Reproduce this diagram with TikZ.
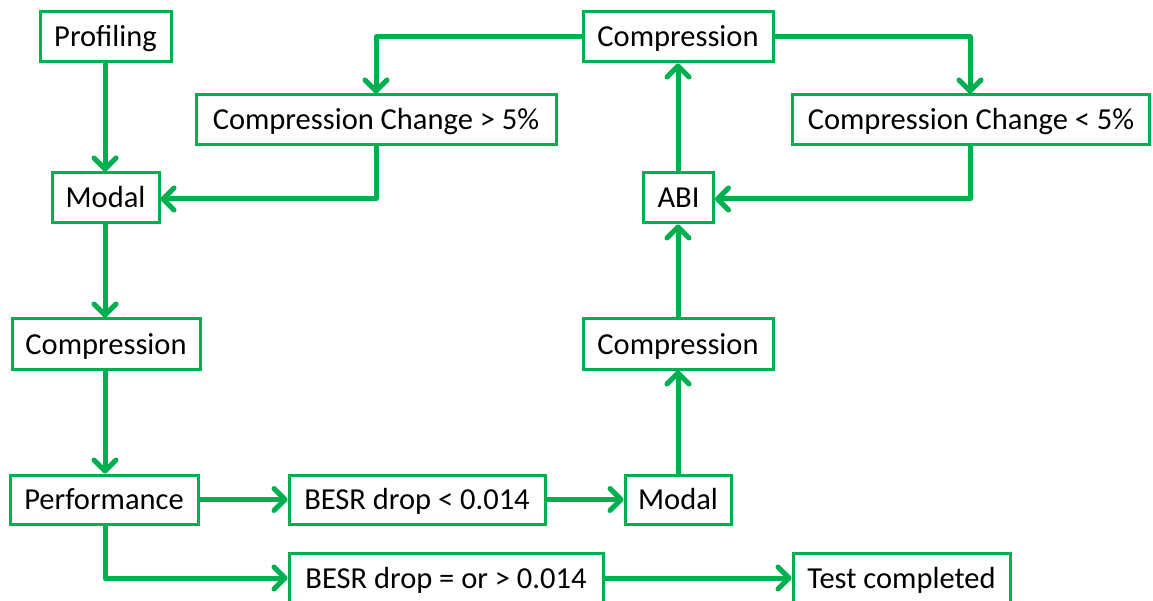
\documentclass[tikz,border=0pt]{standalone}
\usepackage{fontspec}
\setmainfont{Carlito}
\usetikzlibrary{arrows.meta}
\definecolor{fgreen}{HTML}{00B050}
\begin{document}
\begin{tikzpicture}[x=1pt,y=-1pt,
  box/.style={draw=fgreen,line width=3pt,fill=white,inner sep=0pt,minimum height=50pt,font=\fontsize{30.5}{36}\selectfont,text=black,text height=23pt,text depth=3pt},
  conn/.style={draw=fgreen,line width=5pt,line join=round,-{Straight Barb[length=11pt,width=22pt,line cap=round,line join=round]}}]
\useasboundingbox (0,0) rectangle (1153,601);
\node[box,minimum width=131pt] (prof) at (105.5,37) {Profiling};
\node[box,minimum width=107pt] (modal1) at (105.5,198) {Modal};
\node[box,minimum width=188pt] (comp1) at (106,344) {Compression};
\node[box,minimum width=188pt,minimum height=49pt] (perf) at (104,499.5) {Performance};
\node[box,minimum width=256pt,minimum height=49pt] (besr1) at (417,499.5) {BESR drop < 0.014};
\node[box,minimum width=106pt,minimum height=49pt] (modal2) at (678,499.5) {Modal};
\node[box,minimum width=314pt] (besr2) at (446,578) {BESR drop = or > 0.014};
\node[box,minimum width=217pt] (test) at (901.5,578) {Test completed};
\node[box,minimum width=190pt] (comp2) at (678,344) {Compression};
\node[box,minimum width=70pt] (abi) at (678.5,198) {ABI};
\node[box,minimum width=190pt] (comp3) at (678,37) {Compression};
\node[box,minimum width=360pt] (ccg) at (376,120) {Compression Change > 5\%};
\node[box,minimum width=357pt] (ccl) at (971,120) {Compression Change < 5\%};
\coordinate (c1) at (105,578);
\coordinate (c2) at (376,37);
\coordinate (c3) at (970,37);
\coordinate (c4) at (376,199);
\coordinate (c5) at (970,199);
\draw[conn] (prof.south -| 105,0) -- (modal1.north -| 105,0);
\draw[conn] (modal1.south -| 105,0) -- (comp1.north -| 105,0);
\draw[conn] (comp1.south -| 105,0) -- (perf.north -| 105,0);
\draw[conn] (perf.east) -- (besr1.west);
\draw[conn] (perf.south -| c1) -- (c1) -- (besr2.west);
\draw[conn] (besr1.east) -- (modal2.west);
\draw[conn] (modal2.north) -- (comp2.south);
\draw[conn] (comp2.north) -- (abi.south -| comp2.north);
\draw[conn] (abi.north -| comp2.north) -- (comp3.south);
\draw[conn] (comp3.west) -- (c2) -- (ccg.north -| c2);
\draw[conn] (comp3.east) -- (c3) -- (ccl.north -| c3);
\draw[conn] (ccg.south -| c4) -- (c4) -- (modal1.east |- c4);
\draw[conn] (ccl.south -| c5) -- (c5) -- (abi.east |- c5);
\draw[conn] (besr2.east) -- (test.west);
\end{tikzpicture}
\end{document}
